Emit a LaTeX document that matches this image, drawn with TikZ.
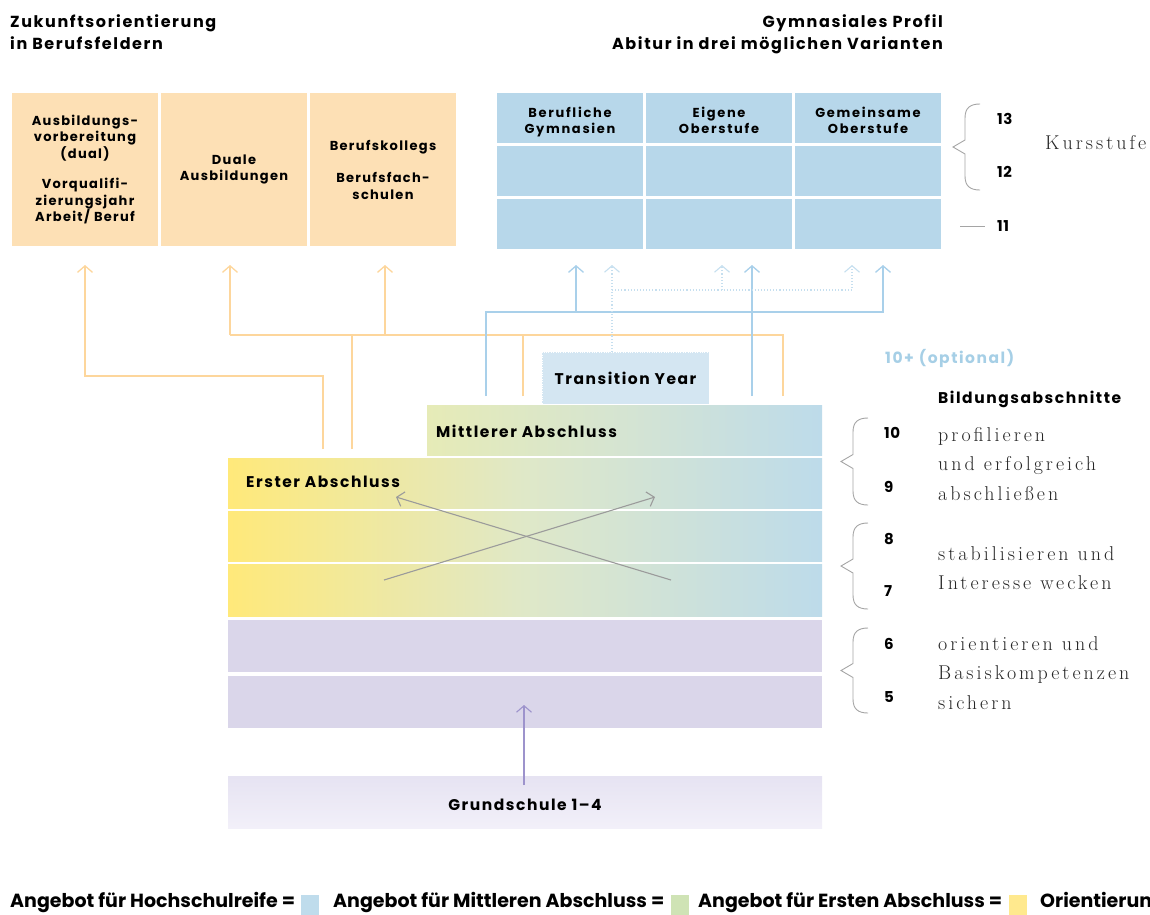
\documentclass[tikz,border=0pt]{standalone}
\usepackage{fontspec}
\usetikzlibrary{arrows.meta,shadings}
\newfontfamily\pop{Poppins}[LetterSpace=10]
\newfontfamily\popw{Poppins}[LetterSpace=13]
\newfontfamily\popn{Poppins}
\newfontfamily\popd{Poppins}[LetterSpace=4]
\newfontfamily\ser{Latin Modern Roman}[LetterSpace=15]
\definecolor{org}{HTML}{FDE0B5}
\definecolor{orgline}{HTML}{FDD69C}
\definecolor{blu}{HTML}{B7D7EA}
\definecolor{bluline}{HTML}{A9D0EA}
\definecolor{bludot}{HTML}{C6DFEF}
\definecolor{ylw}{HTML}{FFE97A}
\definecolor{grn}{HTML}{DFE8C8}
\definecolor{gbl}{HTML}{BDDBEA}
\definecolor{mgrn}{HTML}{E6EBB7}
\definecolor{pur}{HTML}{DAD6EA}
\definecolor{purtop}{HTML}{E6E3F2}
\definecolor{purbot}{HTML}{F2F0F9}
\definecolor{purline}{HTML}{9D93CC}
\definecolor{gry}{HTML}{9B9B9B}
\definecolor{brc}{HTML}{A5A5A5}
\definecolor{tyc}{HTML}{D4E6F2}
\definecolor{optc}{HTML}{A6CFE6}
\definecolor{legb}{HTML}{BFDCEC}
\definecolor{legg}{HTML}{CFE3B5}
\definecolor{legy}{HTML}{FFE98E}
\newcommand{\mybrace}[3]{%
 \draw[bracestyle] ({#1+27},#2) .. controls ({#1+17},#2) and ({#1+12},{#2+4}) .. ({#1+12},{#2+14}) -- ({#1+12},{(#2+#3)/2-7}) -- (#1,{(#2+#3)/2}) -- ({#1+12},{(#2+#3)/2+7}) -- ({#1+12},{#3-14}) .. controls ({#1+12},{#3-4}) and ({#1+17},#3) .. ({#1+27},#3);}
\tikzset{
  box/.style={anchor=north west, inner sep=0pt, outer sep=0pt, align=center},
  obox/.style={box, fill=org, minimum width=146pt, minimum height=153pt,
     font=\pop\bfseries\fontsize{13}{16.5}\selectfont},
  bbox/.style={box, fill=blu, minimum width=146pt, minimum height=50pt},
  hdr/.style={inner sep=0pt, align=center, font=\popw\bfseries\fontsize{13}{16}\selectfont},
  gradrow/.style={box, minimum width=594pt, minimum height=50pt, left color=ylw, right color=gbl, middle color=grn},
  prow/.style={box, fill=pur, minimum width=594pt, minimum height=52pt},
  lbl/.style={inner sep=0pt, font=\pop\bfseries\fontsize{15.5}{18}\selectfont},
  ttl/.style={inner sep=0pt, font=\pop\bfseries\fontsize{16}{22}\selectfont},
  num/.style={inner sep=0pt, anchor=west, font=\popd\bfseries\fontsize{15}{16}\selectfont},
  sertxt/.style={inner sep=0pt, anchor=west, align=left, text=black!85, font=\ser\fontsize{20}{29.5}\selectfont},
  leg/.style={inner sep=0pt, anchor=base west, font=\popn\bfseries\fontsize{19}{20}\selectfont},
  oarr/.style={draw=orgline, line width=1.3pt},
  barr/.style={draw=bluline, line width=1.3pt},
  darr/.style={draw=bludot, line width=1.1pt, dotted},
  tipo/.style={-{Straight Barb[length=6.5pt,width=15pt]}},
  bracestyle/.style={draw=brc, line width=0.9pt},
}
\begin{document}
\begin{tikzpicture}[x=1pt,y=-1pt]
\useasboundingbox (0,0) rectangle (1150,914);
% titles
\node[ttl, anchor=north west, align=left] (t1) at (10,14) {Zukunftsorientierung\\in Berufsfeldern};
\node[ttl, anchor=north east, align=right] (t2) at (943,14) {Gymnasiales Profil\\Abitur in drei möglichen Varianten};
% orange boxes
\node[obox] (o1) at (12,93) {Ausbildungs-\\vorbereitung\\(dual)\\[14pt]Vorqualifi-\\zierungsjahr\\Arbeit/ Beruf};
\node[obox] (o2) at (161,93) {Duale\\Ausbildungen};
\node[obox] (o3) at (310,93) {Berufskollegs\\[16pt]Berufsfach-\\schulen};
% blue grid
\node[bbox] (b11) at (497,93) {};
\node[bbox] (b12) at (646,93) {};
\node[bbox] (b13) at (795,93) {};
\node[bbox] (b21) at (497,146) {};
\node[bbox] (b22) at (646,146) {};
\node[bbox] (b23) at (795,146) {};
\node[bbox] (b31) at (497,199) {};
\node[bbox] (b32) at (646,199) {};
\node[bbox] (b33) at (795,199) {};
\node[hdr, anchor=base] (h1) at (570,117) {Berufliche};
\node[hdr, anchor=base] (h1b) at (570,133) {Gymnasien};
\node[hdr, anchor=base] (h2) at (719,117) {Eigene};
\node[hdr, anchor=base] (h2b) at (719,133) {Oberstufe};
\node[hdr, anchor=base] (h3) at (868,117) {Gemeinsame};
\node[hdr, anchor=base] (h3b) at (868,133) {Oberstufe};
% Kursstufe
\mybrace{953}{104}{190}
\node[num] (n13) at (997,119) {13};
\node[num] (n12) at (997,172) {12};
\coordinate (d11a) at (960,226);
\coordinate (d11b) at (985,226);
\draw[bracestyle] (d11a) -- (d11b);
\node[num] (n11) at (997,226) {11};
\node[sertxt] (kurs) at (1045,143) {Kursstufe};
% transition year
\node[box, fill=tyc, draw=white, dotted, minimum width=167pt, minimum height=52pt, lbl] (ty) at (542,352) {Transition Year};
\node[lbl, anchor=west, text=optc] (opt) at (885,358) {10+ (optional)};
\node[lbl, anchor=west] (bild) at (938,399) {Bildungsabschnitte};
% Mittlerer
\node[box, minimum width=395pt, minimum height=50pt, left color=mgrn, right color=gbl, middle color=grn!70!gbl] (mit) at (427,405) {};
\node[lbl, anchor=west] (mitl) at (436,431) {Mittlerer Abschluss};
% gradient rows
\node[gradrow] (r9) at (228,458) {};
\node[gradrow] (r8) at (228,511) {};
\node[gradrow, minimum height=52pt] (r7) at (228,564) {};
\node[lbl, anchor=west] (ersl) at (246,482) {Erster Abschluss};
\node[prow] (r6) at (228,620) {};
\node[prow] (r5) at (228,676) {};
\node[box, minimum width=594pt, minimum height=52pt, top color=purtop, bottom color=purbot] (gs) at (228,776) {};
\node[lbl] (gsl) at (525,805) {Grundschule 1–4};
% gray X
\coordinate (x1a) at (384,580);
\coordinate (x1b) at (655,497);
\coordinate (x2a) at (671,580);
\coordinate (x2b) at (396,497);
\draw[draw=gry, line width=1.1pt, tipo] (x1a) -- (x1b);
\draw[draw=gry, line width=1.1pt, tipo] (x2a) -- (x2b);
% purple arrow
\coordinate (pa) at (524,785);
\coordinate (pb) at (524,705);
\draw[draw=purline, line width=1.1pt, tipo] (pa) -- (pb);
% orange connectors
\coordinate (oe1) at (323,449);
\coordinate (oe2) at (352,449);
\coordinate (om1) at (523,396);
\coordinate (om2) at (783,396);
\coordinate (ob) at (230,335);
\coordinate (oc) at (783,335);
\coordinate (ot1) at (85,265);
\coordinate (ot2) at (230,265);
\coordinate (ot3) at (385,265);
\draw[oarr, tipo] (oe1) |- (85,376) -- (ot1);
\draw[oarr] (ob) -- (oc) -- (om2);
\draw[oarr] (oe2) -- (352,335);
\draw[oarr] (om1) -- (523,335);
\draw[oarr, tipo] (ob) -- (ot2);
\draw[oarr, tipo] (385,335) -- (ot3);
% blue connectors
\coordinate (bs1) at (486,396);
\coordinate (bs2) at (752,396);
\coordinate (bt1) at (576,265);
\coordinate (bt2) at (752,265);
\coordinate (bt3) at (883,265);
\draw[barr, tipo] (bs1) |- (883,312) -- (bt3);
\draw[barr, tipo] (576,312) -- (bt1);
\draw[barr, tipo] (bs2) -- (bt2);
% dotted connectors
\coordinate (dt1) at (612,265);
\coordinate (dt2) at (722,265);
\coordinate (dt3) at (852,265);
\draw[darr, tipo] (ty.north -| dt1) -- (dt1);
\draw[darr, tipo] (612,290) -| (dt3);
\draw[darr, tipo] (722,290) -- (dt2);
% right side braces
\mybrace{841}{418}{505}
\mybrace{841}{523}{609}
\mybrace{841}{628}{713}
\node[num] (n10) at (884,433) {10};
\node[num] (n9) at (884,487) {9};
\node[num] (n8) at (884,539) {8};
\node[num] (n7) at (884,591) {7};
\node[num] (n6) at (884,644) {6};
\node[num] (n5) at (884,697) {5};
\node[sertxt] (s1) at (938,464) {profilieren\\und erfolgreich\\abschließen};
\node[sertxt] (s2) at (938,568) {stabilisieren und\\Interesse wecken};
\node[sertxt] (s3) at (938,673) {orientieren und\\Basiskompetenzen\\sichern};
% legend
\node[leg] (l1) at (10,907) {Angebot für Hochschulreife =};
\node[box, fill=legb, minimum width=18pt, minimum height=20pt] (q1) at (301,895) {};
\node[leg] (l2) at (333,907) {Angebot für Mittleren Abschluss =};
\node[box, fill=legg, minimum width=18pt, minimum height=20pt] (q2) at (671,895) {};
\node[leg] (l3) at (698,907) {Angebot für Ersten Abschluss =};
\node[box, fill=legy, minimum width=18pt, minimum height=20pt] (q3) at (1009,895) {};
\node[leg] (l4) at (1040,907) {Orientierun};
\end{tikzpicture}
\end{document}
